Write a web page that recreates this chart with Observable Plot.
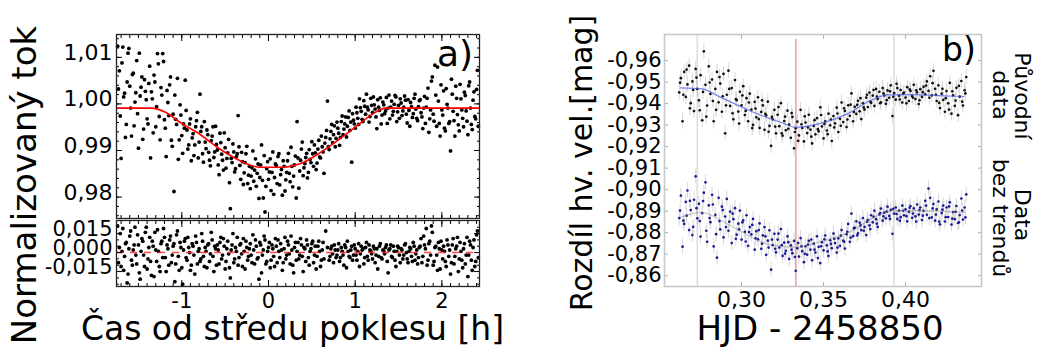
<!DOCTYPE html>
<html><head><meta charset="utf-8">
<script src="https://cdn.jsdelivr.net/npm/d3@7"></script>
<script src="https://cdn.jsdelivr.net/npm/@observablehq/plot@0.6"></script>
<style>
html,body{margin:0;padding:0;background:#fff;}
#root{position:relative;width:1040px;height:347px;overflow:hidden;font-family:"DejaVu Sans",sans-serif;color:#000;}
.t{position:absolute;white-space:nowrap;line-height:1;font-family:"DejaVu Sans",sans-serif;}
svg{position:absolute;}
</style></head><body><div id="root"></div>
<script>
// ---------- Panel a) : normalized flux vs time from mid-transit [h] ----------
const fluxA = [
[-1.74,1.0124],[-1.72,1.0071],[-1.70,0.9883],[-1.68,1.0122],[-1.66,1.0023],[-1.64,0.9956],[-1.62,1.0109],[-1.60,1.0038],[-1.58,0.9931],[-1.56,1.0066],[-1.54,1.0004],[-1.52,1.0093],[-1.50,0.9905],[-1.48,1.0017],[-1.46,1.0058],[-1.44,0.9946],[-1.42,1.0027],[-1.40,0.9968],[-1.38,1.0044],[-1.36,0.9884],[-1.34,1.0011],[-1.32,1.0062],[-1.30,0.9951],[-1.28,1.0108],[-1.26,0.9973],[-1.24,1.0035],[-1.22,1.0108],[-1.20,0.9966],[-1.18,0.9887],[-1.16,1.0003],[-1.14,1.0041],[-1.12,0.9922],[-1.10,0.9978],[-1.08,1.0019],[-1.06,0.9956],[-1.04,0.9881],[-1.02,0.9998],[-1.00,0.9932],[-0.98,0.9957],[-0.96,1.0051],[-0.94,0.9944],[-0.92,0.9912],[-0.90,0.9968],[-0.88,0.9927],[-0.86,0.9889],[-0.84,0.9951],[-0.82,0.9982],[-0.80,0.9918],[-0.78,0.9941],[-0.76,0.9893],[-0.74,0.9962],[-0.72,0.9904],[-0.70,0.9934],[-0.68,0.9879],[-0.66,0.9921],[-0.64,0.9951],[-0.62,0.9897],[-0.60,0.9913],[-0.58,0.9869],[-0.56,0.9937],[-0.54,0.9892],[-0.52,0.9858],[-0.50,0.9906],[-0.48,0.9883],[-0.46,0.9924],[-0.44,0.9775],[-0.42,0.9874],[-0.40,0.9897],[-0.38,0.9861],[-0.36,0.9893],[-0.34,0.9908],[-0.32,0.9838],[-0.30,0.9876],[-0.28,0.9852],[-0.26,0.9893],[-0.24,0.9829],[-0.22,0.9866],[-0.20,0.9845],[-0.18,0.9899],[-0.16,0.9858],[-0.14,0.9823],[-0.12,0.9871],[-0.10,0.9842],[-0.08,0.9912],[-0.06,0.9798],[-0.04,0.9768],[-0.02,0.9861],[0.00,0.9838],[0.02,0.9882],[0.04,0.9853],[0.06,0.9806],[0.08,0.9871],[0.10,0.9829],[0.12,0.9893],[0.14,0.9848],[0.16,0.9804],[0.18,0.9866],[0.20,0.9837],[0.22,0.9878],[0.24,0.9851],[0.26,0.9907],[0.28,0.9822],[0.30,0.9869],[0.32,0.9798],[0.34,0.9884],[0.36,0.9856],[0.38,0.9903],[0.40,0.9846],[0.42,0.9872],[0.44,0.9894],[0.46,0.9853],[0.48,0.9881],[0.50,0.9919],[0.52,0.9866],[0.54,0.9895],[0.56,0.9873],[0.58,0.9922],[0.60,0.9884],[0.62,0.9908],[0.64,0.9851],[0.66,0.9928],[0.68,1.0006],[0.70,0.9902],[0.72,0.9941],[0.74,0.9917],[0.76,0.9953],[0.78,0.9926],[0.80,0.9948],[0.82,0.9911],[0.84,0.9962],[0.86,0.9934],[0.88,0.9957],[0.90,0.9929],[0.92,0.9971],[0.94,0.9943],[0.96,0.9875],[0.98,0.9965],[1.00,0.9948],[1.02,0.9981],[1.04,0.9956],[1.06,0.9992],[1.08,0.9967],[1.10,1.0007],[1.12,0.9978],[1.14,0.9993],[1.16,0.9961],[1.18,1.0012],[1.20,0.9982],[1.22,0.9998],[1.24,0.9972],[1.26,1.0009],[1.28,0.9986],[1.30,0.9957],[1.32,1.0004],[1.34,0.9979],[1.36,1.0014],[1.38,0.9991],[1.40,0.9968],[1.42,1.0006],[1.44,0.9984],[1.46,1.0018],[1.48,0.9962],[1.50,0.9997],[1.52,1.0011],[1.54,0.9975],[1.56,0.9993],[1.58,1.0008],[1.60,0.9959],[1.62,0.9986],[1.64,1.0003],[1.66,0.9971],[1.68,1.0012],[1.70,0.9989],[1.72,0.9964],[1.74,1.0007],[1.76,0.9981],[1.78,0.9947],[1.80,1.0016],[1.82,0.9993],[1.84,1.0034],[1.86,0.9968],[1.88,1.0049],[1.90,0.9978],[1.92,1.0083],[1.94,0.9952],[1.96,1.0006],[1.98,0.9931],[2.00,0.9987],[2.02,1.0028],[2.04,0.9942],[2.06,0.9999],[2.08,0.9958],[2.10,0.9899],[2.12,1.0021],[2.14,0.9964],[2.16,1.0038],[2.18,0.9977],[2.20,0.9942],[2.22,1.0011],[2.24,0.9969],[2.26,1.0025],[2.28,0.9985],[2.30,0.9934],[2.32,1.0047],[2.34,0.9956],[2.36,1.0008],[2.38,0.9973],[2.40,1.0031],[2.42,0.9952],
[-1.73,1.0032],[-1.71,0.9974],[-1.69,1.0088],[-1.67,1.0015],[-1.65,0.9928],[-1.63,1.0047],[-1.61,1.0119],[-1.59,0.9991],[-1.57,1.0063],[-1.55,0.9953],[-1.53,1.0024],[-1.51,0.9979],[-1.49,1.0109],[-1.47,1.0036],[-1.45,0.9924],[-1.43,1.0052],[-1.41,1.0009],[-1.39,0.9957],[-1.37,1.0081],[-1.35,1.0026],[-1.33,0.9938],[-1.31,1.0047],[-1.29,0.9994],[-1.27,1.0086],[-1.25,0.9923],[-1.23,1.0019],[-1.21,1.0091],[-1.19,0.9948],[-1.17,1.0029],[-1.15,0.9975],[-1.13,1.0058],[-1.11,0.9909],[-1.09,0.9812],[-1.07,0.9967],[-1.05,1.0055],[-1.03,0.9923],[-1.01,0.9976],[-0.99,0.9894],[-0.97,0.9948],[-0.95,0.9986],[-0.93,0.9903],[-0.91,0.9957],[-0.89,0.9878],[-0.87,0.9936],[-0.85,0.9912],[-0.83,0.9964],[-0.81,0.9884],[-0.79,1.0021],[-0.77,0.9951],[-0.75,0.9875],[-0.73,0.9918],[-0.71,0.9944],[-0.69,0.9896],[-0.67,0.9867],[-0.65,0.9931],[-0.63,0.9885],[-0.61,0.9952],[-0.59,0.9901],[-0.57,0.9848],[-0.55,0.9917],[-0.53,0.9879],[-0.51,0.9938],[-0.49,0.9862],[-0.47,0.9895],[-0.45,0.9831],[-0.43,0.9883],[-0.41,0.9914],[-0.39,0.9854],[-0.37,0.9887],[-0.35,0.9975],[-0.33,0.9868],[-0.31,0.9896],[-0.29,0.9827],[-0.27,0.9874],[-0.25,0.9909],[-0.23,0.9847],[-0.21,0.9818],[-0.19,0.9863],[-0.17,0.9834],[-0.15,0.9882],[-0.13,0.9851],[-0.11,0.9797],[-0.09,0.9869],[-0.07,0.9836],[-0.05,0.9889],[-0.03,0.9823],[-0.01,0.9876],[0.01,0.9854],[0.03,0.9814],[0.05,0.9897],[0.07,0.9842],[0.09,0.9868],[0.11,0.9887],[0.13,0.9826],[0.15,0.9859],[0.17,0.9878],[0.19,0.9813],[0.21,0.9853],[0.23,0.9894],[0.25,0.9833],[0.27,0.9866],[0.29,0.9845],[0.31,0.9888],[0.33,0.9962],[0.35,0.9819],[0.37,0.9879],[0.39,0.9918],[0.41,0.9863],[0.43,0.9885],[0.45,0.9841],[0.47,0.9902],[0.49,0.9874],[0.51,0.9893],[0.53,0.9912],[0.55,0.9859],[0.57,0.9903],[0.59,0.9886],[0.61,0.9931],[0.63,0.9897],[0.65,0.9916],[0.67,0.9943],[0.69,0.9908],[0.71,0.9925],[0.73,0.9956],[0.75,0.9934],[0.77,0.9908],[0.79,0.9961],[0.81,0.9937],[0.83,0.9928],[0.85,0.9974],[0.87,0.9946],[0.89,0.9972],[0.91,0.9952],[0.93,0.9985],[0.95,0.9961],[0.97,0.9979],[0.99,0.9957],[1.01,0.9993],[1.03,0.9969],[1.05,1.0011],[1.07,0.9984],[1.09,0.9962],[1.11,0.9995],[1.13,1.0021],[1.15,0.9987],[1.17,0.9973],[1.19,0.9997],[1.21,1.0015],[1.23,0.9989],[1.25,0.9947],[1.27,0.9993],[1.29,1.0013],[1.31,0.9976],[1.33,0.9998],[1.35,0.9985],[1.37,0.9958],[1.39,1.0019],[1.41,0.9993],[1.43,0.9976],[1.45,0.9999],[1.47,1.0015],[1.49,0.9983],[1.51,0.9969],[1.53,1.0002],[1.55,0.9985],[1.57,1.0017],[1.59,0.9978],[1.61,1.0009],[1.63,0.9952],[1.65,0.9994],[1.67,0.9979],[1.69,1.0021],[1.71,0.9969],[1.73,0.9994],[1.75,1.0009],[1.77,0.9972],[1.79,0.9991],[1.81,0.9958],[1.83,1.0012],[1.85,0.9939],[1.87,0.9987],[1.89,1.0058],[1.91,0.9963],[1.93,1.0019],[1.95,1.0079],[1.97,0.9958],[1.99,1.0041],[2.01,0.9976],[2.03,0.9948],[2.05,1.0033],[2.07,0.9991],[2.09,0.9962],[2.11,1.0053],[2.13,0.9984],[2.15,0.9931],[2.17,1.0012],[2.19,0.9955],[2.21,1.0042],[2.23,0.9987],[2.25,0.9951],[2.27,1.0018],[2.29,0.9963],[2.31,1.0039],[2.33,0.9991],[2.35,0.9945],[2.37,1.0026],[2.39,0.9968],[2.41,1.0072]
];
const modelA = [[-1.753,0.9991],[-1.34,0.9991],[-1.2,0.9983],[-1.0,0.9958],[-0.8,0.9936],[-0.6,0.9908],[-0.4,0.9885],[-0.2,0.9868],[-0.1,0.9864],[0.15,0.9864],[0.3,0.9868],[0.4,0.9874],[0.6,0.9896],[0.8,0.9922],[1.0,0.9950],[1.2,0.9978],[1.35,0.9991],[2.434,0.9991]];
const residA = [
[-1.74,0.021],[-1.72,0.004],[-1.70,-0.011],[-1.68,0.019],[-1.66,-0.003],[-1.64,0.008],[-1.62,-0.017],[-1.60,0.013],[-1.58,-0.006],[-1.56,0.002],[-1.54,0.020],[-1.52,-0.009],[-1.50,0.006],[-1.48,-0.021],[-1.46,0.011],[-1.44,-0.002],[-1.42,0.016],[-1.40,-0.013],[-1.38,0.004],[-1.36,-0.007],[-1.34,0.009],[-1.32,-0.019],[-1.30,0.002],[-1.28,0.018],[-1.26,-0.011],[-1.24,0.007],[-1.22,-0.004],[-1.20,0.012],[-1.18,-0.015],[-1.16,0.003],[-1.14,0.010],[-1.12,-0.008],[-1.10,0.005],[-1.08,-0.023],[-1.06,0.014],[-1.04,-0.003],[-1.02,0.008],[-1.00,-0.012],[-0.98,0.002],[-0.96,0.011],[-0.94,-0.006],[-0.92,0.004],[-0.90,-0.014],[-0.88,0.007],[-0.86,-0.002],[-0.84,0.013],[-0.82,-0.009],[-0.80,0.003],[-0.78,-0.005],[-0.76,0.009],[-0.74,-0.011],[-0.72,0.001],[-0.70,0.006],[-0.68,-0.007],[-0.66,0.016],[-0.64,-0.003],[-0.62,0.005],[-0.60,-0.010],[-0.58,0.002],[-0.56,0.008],[-0.54,-0.005],[-0.52,0.011],[-0.50,-0.013],[-0.48,0.003],[-0.46,-0.001],[-0.44,-0.020],[-0.42,0.006],[-0.40,-0.008],[-0.38,0.004],[-0.36,0.012],[-0.34,-0.004],[-0.32,0.007],[-0.30,-0.011],[-0.28,0.001],[-0.26,0.009],[-0.24,-0.006],[-0.22,0.003],[-0.20,-0.002],[-0.18,0.014],[-0.16,-0.009],[-0.14,0.005],[-0.12,-0.004],[-0.10,0.008],[-0.08,-0.016],[-0.06,0.002],[-0.04,0.010],[-0.02,-0.007],[0.00,0.004],[0.02,-0.012],[0.04,0.006],[0.06,-0.003],[0.08,0.011],[0.10,-0.008],[0.12,0.001],[0.14,0.007],[0.16,-0.014],[0.18,0.003],[0.20,-0.005],[0.22,0.009],[0.24,-0.001],[0.26,0.013],[0.28,-0.010],[0.30,0.004],[0.32,-0.006],[0.34,0.008],[0.36,-0.002],[0.38,0.006],[0.40,-0.015],[0.42,0.003],[0.44,0.010],[0.46,-0.004],[0.48,0.001],[0.50,0.007],[0.52,-0.008],[0.54,0.005],[0.56,-0.003],[0.58,0.009],[0.60,-0.011],[0.62,0.002],[0.64,-0.005],[0.66,0.017],[0.68,0.004],[0.70,-0.006],[0.72,0.003],[0.74,-0.001],[0.76,0.006],[0.78,-0.004],[0.80,0.002],[0.82,-0.007],[0.84,0.004],[0.86,-0.002],[0.88,0.006],[0.90,-0.012],[0.92,0.001],[0.94,-0.004],[0.96,0.005],[0.98,-0.002],[1.00,0.003],[1.02,-0.006],[1.04,0.007],[1.06,-0.001],[1.08,0.002],[1.10,-0.009],[1.12,0.004],[1.14,-0.003],[1.16,0.006],[1.18,0.001],[1.20,-0.005],[1.22,0.003],[1.24,-0.002],[1.26,-0.013],[1.28,0.005],[1.30,-0.004],[1.32,0.002],[1.34,-0.001],[1.36,0.006],[1.38,-0.016],[1.40,0.003],[1.42,-0.003],[1.44,0.005],[1.46,-0.006],[1.48,0.001],[1.50,0.004],[1.52,-0.008],[1.54,0.002],[1.56,-0.002],[1.58,0.007],[1.60,-0.005],[1.62,0.001],[1.64,0.003],[1.66,-0.007],[1.68,0.005],[1.70,-0.001],[1.72,-0.009],[1.74,0.004],[1.76,0.011],[1.78,-0.003],[1.80,0.006],[1.82,0.019],[1.84,-0.006],[1.86,0.009],[1.88,0.021],[1.90,-0.010],[1.92,0.004],[1.94,-0.002],[1.96,0.008],[1.98,-0.013],[2.00,0.002],[2.02,0.005],[2.04,-0.007],[2.06,0.010],[2.08,-0.003],[2.10,-0.017],[2.12,0.006],[2.14,-0.009],[2.16,0.003],[2.18,0.012],[2.20,-0.005],[2.22,0.001],[2.24,-0.012],[2.26,0.007],[2.28,-0.002],[2.30,-0.019],[2.32,0.009],[2.34,-0.006],[2.36,0.004],[2.38,-0.011],[2.40,0.014],[2.42,-0.004],
[-1.73,-0.008],[-1.71,0.015],[-1.69,0.001],[-1.67,-0.014],[-1.65,0.007],[-1.63,-0.024],[-1.61,0.003],[-1.59,0.017],[-1.57,-0.010],[-1.55,0.006],[-1.53,-0.002],[-1.51,0.014],[-1.49,-0.016],[-1.47,0.001],[-1.45,0.009],[-1.43,-0.011],[-1.41,0.020],[-1.39,-0.005],[-1.37,0.012],[-1.35,-0.018],[-1.33,0.005],[-1.31,0.016],[-1.29,-0.007],[-1.27,0.001],[-1.25,-0.015],[-1.23,0.009],[-1.21,0.019],[-1.19,-0.004],[-1.17,0.006],[-1.15,-0.010],[-1.13,0.013],[-1.11,-0.002],[-1.09,0.007],[-1.07,-0.009],[-1.05,0.017],[-1.03,-0.014],[-1.01,0.004],[-0.99,-0.025],[-0.97,0.009],[-0.95,-0.004],[-0.93,0.012],[-0.91,0.000],[-0.89,-0.010],[-0.87,0.005],[-0.85,-0.017],[-0.83,0.008],[-0.81,0.001],[-0.79,-0.007],[-0.77,0.015],[-0.75,-0.003],[-0.73,0.004],[-0.71,-0.012],[-0.69,0.007],[-0.67,-0.001],[-0.65,0.010],[-0.63,-0.015],[-0.61,0.003],[-0.59,0.006],[-0.57,-0.009],[-0.55,0.012],[-0.53,-0.002],[-0.51,0.005],[-0.49,-0.007],[-0.47,0.009],[-0.45,-0.012],[-0.43,0.002],[-0.41,0.015],[-0.39,-0.005],[-0.37,0.001],[-0.35,-0.010],[-0.33,0.006],[-0.31,-0.001],[-0.29,0.011],[-0.27,-0.013],[-0.25,0.004],[-0.23,-0.003],[-0.21,0.007],[-0.19,-0.008],[-0.17,0.002],[-0.15,0.010],[-0.13,-0.005],[-0.11,-0.021],[-0.09,0.006],[-0.07,-0.002],[-0.05,0.013],[-0.03,-0.009],[-0.01,0.001],[0.01,0.008],[0.03,-0.006],[0.05,0.003],[0.07,-0.011],[0.09,0.005],[0.11,0.010],[0.13,-0.004],[0.15,0.002],[0.17,-0.008],[0.19,0.012],[0.21,-0.002],[0.23,0.006],[0.25,-0.009],[0.27,0.002],[0.29,-0.016],[0.31,0.008],[0.33,0.001],[0.35,-0.005],[0.37,0.011],[0.39,-0.003],[0.41,0.004],[0.43,-0.007],[0.45,0.006],[0.47,-0.010],[0.49,0.003],[0.51,0.009],[0.53,-0.002],[0.55,-0.013],[0.57,0.005],[0.59,0.001],[0.61,-0.006],[0.63,0.008],[0.71,-0.003],[0.73,0.005],[0.75,-0.008],[0.77,0.002],[0.79,-0.002],[0.81,0.007],[0.83,-0.004],[0.85,0.001],[0.87,-0.010],[0.89,0.004],[0.91,0.009],[0.93,-0.003],[0.95,0.002],[0.97,-0.006],[0.99,0.006],[1.01,-0.002],[1.03,0.001],[1.05,-0.011],[1.07,0.005],[1.09,0.003],[1.11,-0.004],[1.13,0.008],[1.15,-0.006],[1.17,0.002],[1.19,-0.001],[1.21,0.005],[1.23,-0.008],[1.25,0.003],[1.27,-0.003],[1.29,0.007],[1.31,-0.005],[1.33,0.001],[1.35,0.004],[1.37,-0.007],[1.39,0.002],[1.41,0.006],[1.43,-0.004],[1.45,0.001],[1.47,-0.011],[1.49,0.005],[1.51,-0.002],[1.53,0.003],[1.55,-0.005],[1.57,0.006],[1.59,0.000],[1.61,-0.008],[1.63,0.004],[1.65,-0.003],[1.67,0.008],[1.69,-0.006],[1.71,0.002],[1.73,-0.004],[1.75,0.005],[1.77,-0.008],[1.79,0.013],[1.81,0.003],[1.83,-0.010],[1.85,0.007],[1.87,-0.002],[1.89,0.016],[1.91,-0.007],[1.93,0.005],[1.95,-0.014],[1.97,0.003],[1.99,0.009],[2.01,-0.005],[2.03,0.001],[2.05,-0.011],[2.07,0.006],[2.09,0.002],[2.11,-0.008],[2.13,0.011],[2.15,-0.003],[2.17,0.005],[2.19,-0.015],[2.21,0.008],[2.23,-0.006],[2.25,0.003],[2.27,-0.009],[2.29,0.012],[2.31,-0.002],[2.33,0.006],[2.35,-0.014],[2.37,0.010],[2.39,-0.007],[2.41,0.017]
];
const residZero = [0];
const aXTicks = [-1, 0, 1, 2];
const aXTickLabels = ["-1", "0", "1", "2"];
const aYTicks = [0.98, 0.99, 1.00, 1.01];
const aYTickLabels = ["0,98", "0,99", "1,00", "1,01"];
const rYTicks = [-0.015, 0, 0.015];
const rYTickLabels = ["-0,015", "0,000", "0,015"];

// ---------- Panel b) : magnitude difference vs HJD - 2458850 ----------
const magRaw = [
[0.262,-0.9452],[0.263,-0.9518],[0.264,-0.9318],[0.265,-0.9547],[0.266,-0.9431],[0.267,-0.9489],[0.268,-0.9576],[0.269,-0.9402],[0.270,-0.9503],[0.271,-0.9365],[0.272,-0.9561],[0.273,-0.9468],[0.274,-0.9415],[0.275,-0.9532],[0.276,-0.9322],[0.277,-0.9643],[0.278,-0.9487],[0.279,-0.9391],[0.280,-0.9573],[0.281,-0.9445],[0.282,-0.9512],[0.283,-0.9318],[0.284,-0.9468],[0.285,-0.9547],[0.286,-0.9406],[0.287,-0.9493],[0.288,-0.9362],[0.289,-0.9538],[0.290,-0.9262],[0.291,-0.9441],[0.292,-0.9553],[0.293,-0.9389],[0.294,-0.9472],[0.295,-0.9327],[0.296,-0.9509],[0.297,-0.9416],[0.298,-0.9363],[0.299,-0.9455],[0.300,-0.9392],[0.301,-0.9481],[0.302,-0.9347],[0.303,-0.9425],[0.304,-0.9318],[0.305,-0.9446],[0.306,-0.9372],[0.307,-0.9301],[0.308,-0.9408],[0.309,-0.9336],[0.310,-0.9429],[0.311,-0.9287],[0.312,-0.9361],[0.313,-0.9392],[0.314,-0.9278],[0.315,-0.9345],[0.316,-0.9409],[0.317,-0.9296],[0.318,-0.9203],[0.319,-0.9327],[0.320,-0.9371],[0.321,-0.9262],[0.322,-0.9348],[0.323,-0.9295],[0.324,-0.9402],[0.325,-0.9251],[0.326,-0.9319],[0.327,-0.9276],[0.328,-0.9367],[0.329,-0.9302],[0.330,-0.9241],[0.331,-0.9338],[0.332,-0.9192],[0.333,-0.9285],[0.334,-0.9316],[0.335,-0.9252],[0.336,-0.9371],[0.337,-0.9287],[0.338,-0.9224],[0.339,-0.9312],[0.340,-0.9263],[0.341,-0.9348],[0.342,-0.9279],[0.343,-0.9215],[0.344,-0.9296],[0.345,-0.9257],[0.346,-0.9332],[0.347,-0.9271],[0.348,-0.9383],[0.349,-0.9294],[0.350,-0.9238],[0.351,-0.9317],[0.352,-0.9275],[0.353,-0.9353],[0.354,-0.9299],[0.355,-0.9226],[0.356,-0.9342],[0.357,-0.9308],[0.358,-0.9381],[0.359,-0.9268],[0.360,-0.9329],[0.361,-0.9405],[0.362,-0.9314],[0.363,-0.9366],[0.364,-0.9291],[0.365,-0.9392],[0.366,-0.9343],[0.367,-0.9447],[0.368,-0.9318],[0.369,-0.9385],[0.370,-0.9352],[0.371,-0.9413],[0.372,-0.9364],[0.373,-0.9328],[0.374,-0.9401],[0.375,-0.9372],[0.376,-0.9428],[0.377,-0.9384],[0.378,-0.9451],[0.379,-0.9403],[0.380,-0.9437],[0.381,-0.9389],[0.382,-0.9468],[0.383,-0.9421],[0.384,-0.9455],[0.385,-0.9406],[0.386,-0.9472],[0.387,-0.9438],[0.388,-0.9399],[0.389,-0.9461],[0.390,-0.9427],[0.391,-0.9485],[0.392,-0.9342],[0.393,-0.9449],[0.394,-0.9418],[0.395,-0.9472],[0.396,-0.9436],[0.397,-0.9463],[0.398,-0.9405],[0.399,-0.9451],[0.400,-0.9428],[0.401,-0.9476],[0.402,-0.9412],[0.403,-0.9459],[0.404,-0.9435],[0.405,-0.9487],[0.406,-0.9421],[0.407,-0.9452],[0.408,-0.9398],[0.409,-0.9467],[0.410,-0.9431],[0.411,-0.9478],[0.412,-0.9443],[0.413,-0.9503],[0.414,-0.9459],[0.415,-0.9527],[0.416,-0.9438],[0.417,-0.9552],[0.418,-0.9469],[0.419,-0.9412],[0.420,-0.9485],[0.421,-0.9379],[0.422,-0.9446],[0.423,-0.9417],[0.424,-0.9362],[0.425,-0.9458],[0.426,-0.9401],[0.427,-0.9496],[0.428,-0.9353],[0.429,-0.9438],[0.430,-0.9389],[0.431,-0.9473],[0.432,-0.9346],[0.433,-0.9432],[0.434,-0.9505],[0.435,-0.9391],[0.436,-0.9462],[0.437,-0.9523],
[0.2625,-0.9497],[0.2645,-0.9441],[0.2665,-0.9558],[0.2685,-0.9378],[0.2705,-0.9463],[0.2725,-0.9521],[0.2745,-0.9369],[0.2765,-0.9454],[0.2785,-0.9339],[0.2805,-0.9498],[0.2825,-0.9412],[0.2845,-0.9371],[0.2865,-0.9523],[0.2885,-0.9434],[0.2905,-0.9392],[0.2925,-0.9468],[0.2945,-0.9355],[0.2965,-0.9421],[0.2985,-0.9307],[0.3005,-0.9438],[0.3025,-0.9366],[0.3045,-0.9405],[0.3065,-0.9286],[0.3085,-0.9377],[0.3105,-0.9328],[0.3125,-0.9415],[0.3145,-0.9352],[0.3165,-0.9269],[0.3185,-0.9338],[0.3205,-0.9293],[0.3225,-0.9384],[0.3245,-0.9262],[0.3265,-0.9339],[0.3285,-0.9283],[0.3305,-0.9356],[0.3325,-0.9268],[0.3345,-0.9227],[0.3365,-0.9304],[0.3385,-0.9341],[0.3405,-0.9289],[0.3425,-0.9246],[0.3445,-0.9323],[0.3465,-0.9281],[0.3485,-0.9347],[0.3505,-0.9305],[0.3525,-0.9258],[0.3545,-0.9326],[0.3565,-0.9289],[0.3585,-0.9354],[0.3605,-0.9297],[0.3625,-0.9378],[0.3645,-0.9326],[0.3665,-0.9395],[0.3685,-0.9361],[0.3705,-0.9394],[0.3725,-0.9425],[0.3745,-0.9382],[0.3765,-0.9441],[0.3785,-0.9409],[0.3805,-0.9463],[0.3825,-0.9432],[0.3845,-0.9402],[0.3865,-0.9448],[0.3885,-0.9416],[0.3905,-0.9457],[0.3925,-0.9432],[0.3945,-0.9492],[0.3965,-0.9419],[0.3985,-0.9446],[0.4005,-0.9401],[0.4025,-0.9466],[0.4045,-0.9428],[0.4065,-0.9462],[0.4085,-0.9415],[0.4105,-0.9453],[0.4125,-0.9484],[0.4145,-0.9427],[0.4165,-0.9495],[0.4185,-0.9441],[0.4205,-0.9403],[0.4225,-0.9469],[0.4245,-0.9425],[0.4265,-0.9372],[0.4285,-0.9457],[0.4305,-0.9414],[0.4325,-0.9482],[0.4345,-0.9409],[0.4365,-0.9447]
];
const magDetr = [
[0.262,-0.8868],[0.263,-0.8972],[0.264,-0.8735],[0.265,-0.8841],[0.266,-0.8943],[0.267,-0.8996],[0.268,-0.8812],[0.269,-0.8905],[0.270,-0.8789],[0.271,-0.8953],[0.272,-0.9062],[0.273,-0.8867],[0.274,-0.8934],[0.275,-0.8782],[0.276,-0.8891],[0.277,-0.8986],[0.278,-0.9034],[0.279,-0.8758],[0.280,-0.8927],[0.281,-0.8849],[0.282,-0.8976],[0.283,-0.8736],[0.284,-0.8883],[0.285,-0.8684],[0.286,-0.8962],[0.287,-0.8815],[0.288,-0.8921],[0.289,-0.8778],[0.290,-0.8875],[0.291,-0.8957],[0.292,-0.8809],[0.293,-0.8898],[0.294,-0.8752],[0.295,-0.8863],[0.296,-0.8914],[0.297,-0.8791],[0.298,-0.8842],[0.299,-0.8903],[0.300,-0.8768],[0.301,-0.8857],[0.302,-0.8804],[0.303,-0.8881],[0.304,-0.8739],[0.305,-0.8826],[0.306,-0.8792],[0.307,-0.8864],[0.308,-0.8721],[0.309,-0.8807],[0.310,-0.8769],[0.311,-0.8843],[0.312,-0.8725],[0.313,-0.8788],[0.314,-0.8826],[0.315,-0.8697],[0.316,-0.8763],[0.317,-0.8811],[0.318,-0.8628],[0.319,-0.8742],[0.320,-0.8795],[0.321,-0.8709],[0.322,-0.8768],[0.323,-0.8731],[0.324,-0.8817],[0.325,-0.8692],[0.326,-0.8754],[0.327,-0.8716],[0.328,-0.8783],[0.329,-0.8678],[0.330,-0.8741],[0.331,-0.8705],[0.332,-0.8762],[0.333,-0.8623],[0.334,-0.8728],[0.335,-0.8689],[0.336,-0.8775],[0.337,-0.8714],[0.338,-0.8663],[0.339,-0.8737],[0.340,-0.8698],[0.341,-0.8762],[0.342,-0.8721],[0.343,-0.8672],[0.344,-0.8749],[0.345,-0.8708],[0.346,-0.8783],[0.347,-0.8734],[0.348,-0.8659],[0.349,-0.8756],[0.350,-0.8718],[0.351,-0.8787],[0.352,-0.8741],[0.353,-0.8692],[0.354,-0.8765],[0.355,-0.8728],[0.356,-0.8796],[0.357,-0.8752],[0.358,-0.8708],[0.359,-0.8774],[0.360,-0.8739],[0.361,-0.8812],[0.362,-0.8763],[0.363,-0.8726],[0.364,-0.8793],[0.365,-0.8841],[0.366,-0.8758],[0.367,-0.8889],[0.368,-0.8784],[0.369,-0.8822],[0.370,-0.8853],[0.371,-0.8797],[0.372,-0.8846],[0.373,-0.8812],[0.374,-0.8868],[0.375,-0.8827],[0.376,-0.8789],[0.377,-0.8859],[0.378,-0.8834],[0.379,-0.8881],[0.380,-0.8848],[0.381,-0.8902],[0.382,-0.8863],[0.383,-0.8827],[0.384,-0.8885],[0.385,-0.8912],[0.386,-0.8856],[0.387,-0.8893],[0.388,-0.8867],[0.389,-0.8921],[0.390,-0.8878],[0.391,-0.8906],[0.392,-0.8795],[0.393,-0.8889],[0.394,-0.8917],[0.395,-0.8864],[0.396,-0.8903],[0.397,-0.8872],[0.398,-0.8926],[0.399,-0.8881],[0.400,-0.8908],[0.401,-0.8853],[0.402,-0.8897],[0.403,-0.8924],[0.404,-0.8869],[0.405,-0.8913],[0.406,-0.8876],[0.407,-0.8931],[0.408,-0.8884],[0.409,-0.8917],[0.410,-0.8859],[0.411,-0.8902],[0.412,-0.8948],[0.413,-0.8883],[0.414,-0.9005],[0.415,-0.8962],[0.416,-0.8871],[0.417,-0.8933],[0.418,-0.8856],[0.419,-0.8908],[0.420,-0.8945],[0.421,-0.8839],[0.422,-0.8891],[0.423,-0.8926],[0.424,-0.8852],[0.425,-0.8917],[0.426,-0.8873],[0.427,-0.8941],[0.428,-0.8838],[0.429,-0.8896],[0.430,-0.8863],[0.431,-0.8924],[0.432,-0.8845],[0.433,-0.8882],[0.434,-0.8959],[0.435,-0.8861],[0.436,-0.8917],[0.437,-0.8978],
[0.2625,-0.8903],[0.2645,-0.8856],[0.2665,-0.8879],[0.2685,-0.8948],[0.2705,-0.8827],[0.2725,-0.8914],[0.2745,-0.8854],[0.2765,-0.8947],[0.2785,-0.8809],[0.2805,-0.8868],[0.2825,-0.8931],[0.2845,-0.8793],[0.2865,-0.8854],[0.2885,-0.8905],[0.2905,-0.8826],[0.2925,-0.8851],[0.2945,-0.8889],[0.2965,-0.8772],[0.2985,-0.8815],[0.3005,-0.8848],[0.3025,-0.8759],[0.3045,-0.8803],[0.3065,-0.8836],[0.3085,-0.8774],[0.3105,-0.8812],[0.3125,-0.8749],[0.3145,-0.8783],[0.3165,-0.8731],[0.3185,-0.8768],[0.3205,-0.8725],[0.3225,-0.8796],[0.3245,-0.8742],[0.3265,-0.8703],[0.3285,-0.8756],[0.3305,-0.8721],[0.3325,-0.8687],[0.3345,-0.8752],[0.3365,-0.8736],[0.3385,-0.8702],[0.3405,-0.8745],[0.3425,-0.8768],[0.3445,-0.8721],[0.3465,-0.8682],[0.3485,-0.8737],[0.3505,-0.8769],[0.3525,-0.8713],[0.3545,-0.8748],[0.3565,-0.8772],[0.3585,-0.8731],[0.3605,-0.8786],[0.3625,-0.8758],[0.3645,-0.8804],[0.3665,-0.8777],[0.3685,-0.8821],[0.3705,-0.8788],[0.3725,-0.8834],[0.3745,-0.8809],[0.3765,-0.8851],[0.3785,-0.8817],[0.3805,-0.8874],[0.3825,-0.8842],[0.3845,-0.8891],[0.3865,-0.8876],[0.3885,-0.8898],[0.3905,-0.8864],[0.3925,-0.8911],[0.3945,-0.8887],[0.3965,-0.8856],[0.3985,-0.8902],[0.4005,-0.8877],[0.4025,-0.8916],[0.4045,-0.8889],[0.4065,-0.8852],[0.4085,-0.8905],[0.4105,-0.8879],[0.4125,-0.8926],[0.4145,-0.8868],[0.4165,-0.8913],[0.4185,-0.8884],[0.4205,-0.8851],[0.4225,-0.8907],[0.4245,-0.8872],[0.4265,-0.8922],[0.4285,-0.8865],[0.4305,-0.8897],[0.4325,-0.8848],[0.4345,-0.8903],[0.4365,-0.8871]
];
const magErr = 0.0035;
const modelRaw = [[0.2628,-0.9473],[0.2760,-0.9468],[0.2872,-0.9429],[0.3073,-0.9360],[0.3238,-0.9313],[0.3331,-0.9290],[0.3482,-0.9308],[0.3645,-0.9352],[0.3787,-0.9414],[0.3888,-0.9440],[0.4049,-0.9442],[0.4193,-0.9437],[0.4354,-0.9433]];
const modelDetr = [[0.2628,-0.8871],[0.2750,-0.8894],[0.2951,-0.8825],[0.3157,-0.8747],[0.3329,-0.8732],[0.3502,-0.8763],[0.3665,-0.8805],[0.3805,-0.8871],[0.3927,-0.8902],[0.4110,-0.8902],[0.4354,-0.8894]];
const markerLinesGray = [0.273, 0.3929];
const markerLineRed = [0.3331];
const bXTicks = [0.30, 0.35, 0.40];
const bXTickLabels = ["0,30", "0,35", "0,40"];
const bYTicks = [-0.96, -0.95, -0.94, -0.93, -0.92, -0.91, -0.90, -0.89, -0.88, -0.87, -0.86];
const bYTickLabels = ["-0,96", "-0,95", "-0,94", "-0,93", "-0,92", "-0,91", "-0,90", "-0,89", "-0,88", "-0,87", "-0,86"];

// ---------- drawing ----------
const root = document.getElementById("root");
const FONT = "DejaVu Sans";
const baseStyle = {fontFamily: FONT, fontSize: "22px", color: "#000", background: "none", overflow: "visible"};
const fmt = (ticks, labels) => d => labels[ticks.indexOf(d)];
const blank = () => "";
function inTicks(dim, ticks, len, color, sides, sw = 1) {
  const out = [];
  for (const side of sides) {
    const o = {ticks, anchor: side, tickSize: len, tickFormat: blank, label: null, color, strokeWidth: sw};
    if (side === "left") o.dx = len;
    if (side === "right") o.dx = -len;
    if (side === "top") o.dy = len;
    if (side === "bottom") o.dy = -len;
    out.push(dim === "x" ? Plot.axisX(o) : Plot.axisY(o));
  }
  return out;
}
function put(svg, left, top) { svg.style.left = left + "px"; svg.style.top = top + "px"; root.appendChild(svg); }
function txt(s, x, y, size, rot = 0) {
  const d = document.createElement("div");
  d.className = "t"; d.textContent = s;
  d.style.fontSize = size + "px"; d.style.left = x + "px"; d.style.top = y + "px";
  d.style.transform = `translate(-50%,-50%) rotate(${rot}deg)`;
  root.appendChild(d);
}

const aXDomain = [-1.753, 2.434];
const aXMinor = d3.range(-1.7, 2.45, 0.1).map(v => Math.round(v * 10) / 10);
const aYMinor = d3.range(0.976, 1.015, 0.002).map(v => Math.round(v * 1000) / 1000);
const rYMinor = [-0.025, -0.02, -0.01, -0.005, 0.005, 0.01, 0.02];

const aTop = Plot.plot({
  width: 500, height: 220, marginLeft: 116, marginRight: 21, marginTop: 34, marginBottom: 2,
  style: baseStyle,
  x: {domain: aXDomain},
  y: {domain: [0.9754, 1.0149]},
  marks: [
    Plot.dot(fluxA, {r: 1.9, fill: "#000", stroke: "none"}),
    Plot.line(modelA, {stroke: "#ff0000", strokeWidth: 1.6, curve: "monotone-x"}),
    ...inTicks("y", aYTicks, 6, "#000", ["left", "right"]),
    ...inTicks("y", aYMinor, 3, "#000", ["left", "right"]),
    ...inTicks("x", aXTicks, 6, "#000", ["top", "bottom"]),
    ...inTicks("x", aXMinor, 3, "#000", ["top", "bottom"]),
    Plot.axisY({ticks: aYTicks, anchor: "left", tickSize: 0, tickPadding: 4, dy: -4.5, tickFormat: fmt(aYTicks, aYTickLabels), label: null, fontSize: 22}),
    Plot.frame({stroke: "#222", strokeWidth: 1.3})
  ]
});
put(aTop, 0, 0);

const aBot = Plot.plot({
  width: 500, height: 129, marginLeft: 116, marginRight: 21, marginTop: 2, marginBottom: 61,
  style: baseStyle,
  x: {domain: aXDomain},
  y: {domain: [-0.0268, 0.0253]},
  marks: [
    Plot.dot(residA, {r: 1.9, fill: "#000", stroke: "none"}),
    Plot.ruleY(residZero, {stroke: "#ff2a2a", strokeOpacity: 0.85, strokeWidth: 1.6, strokeDasharray: "7,7"}),
    ...inTicks("y", rYTicks, 6, "#000", ["left", "right"]),
    ...inTicks("y", rYMinor, 3, "#000", ["left", "right"]),
    ...inTicks("x", aXTicks, 6, "#000", ["top", "bottom"]),
    ...inTicks("x", aXMinor, 3, "#000", ["top", "bottom"]),
    Plot.axisY({ticks: rYTicks, anchor: "left", tickSize: 0, tickPadding: 4, dy: -4, tickFormat: fmt(rYTicks, rYTickLabels), label: null, fontSize: 21}),
    Plot.axisX({ticks: aXTicks, anchor: "bottom", tickSize: 0, tickPadding: 6.5, tickFormat: fmt(aXTicks, aXTickLabels), label: null, fontSize: 21}),
    Plot.frame({stroke: "#222", strokeWidth: 1.3})
  ]
});
put(aBot, 0, 218);

const errRule = data => Plot.ruleX(data, {x: d => d[0], y1: d => d[1] - magErr, y2: d => d[1] + magErr, stroke: "#b8b8b8", strokeOpacity: 0.55, strokeWidth: 1});
const bPlot = Plot.plot({
  width: 440, height: 347, marginLeft: 64, marginRight: 59, marginTop: 34, marginBottom: 61,
  style: baseStyle,
  x: {domain: [0.253, 0.4463]},
  y: {domain: [-0.9721, -0.855], reverse: true},
  marks: [
    Plot.ruleX(markerLinesGray, {stroke: "#dcdcdc", strokeWidth: 1.5}),
    Plot.ruleX(markerLineRed, {stroke: "#f5a3a3", strokeWidth: 1.6, insetTop: 5}),
    errRule(magRaw),
    errRule(magDetr),
    Plot.dot(magRaw, {r: 1.35, fill: "#111", stroke: "none"}),
    Plot.dot(magDetr, {r: 1.35, fill: "#1c1c9a", stroke: "none"}),
    Plot.line(modelRaw, {stroke: "#4a5ae8", strokeOpacity: 0.75, strokeWidth: 1.2, curve: "monotone-x"}),
    Plot.line(modelDetr, {stroke: "#777", strokeOpacity: 0.4, strokeWidth: 1.3, curve: "monotone-x"}),
    ...inTicks("y", bYTicks, 4, "#aaa", ["left", "right"]),
    ...inTicks("x", bXTicks, 4, "#aaa", ["bottom", "top"]),
    Plot.axisY({ticks: bYTicks, anchor: "left", tickSize: 0, tickPadding: 3, tickFormat: fmt(bYTicks, bYTickLabels), label: null, fontSize: 21}),
    Plot.axisX({ticks: bXTicks, anchor: "bottom", tickSize: 0, tickPadding: 5, tickFormat: fmt(bXTicks, bXTickLabels), label: null, fontSize: 22}),
    Plot.frame({stroke: "#c8c8c8", strokeWidth: 1.6})
  ]
});
put(bPlot, 600, 0);

// titles and panel tags
txt("Normalizovaný tok", 24, 185, 34, -90);
txt("Čas od středu poklesu [h]", 292.5, 328.3, 33);
txt("Rozdíl hv. vel.[mag]", 581.5, 163, 30, -90);
txt("HJD - 2458850", 820, 328.3, 34);
txt("Původní", 1021.6, 96, 22, 90);
txt("data", 999.6, 95, 22, 90);
txt("Data", 1021.6, 215, 22, 90);
txt("bez trendů", 999.6, 217.5, 22, 90);
txt("a)", 455, 53.5, 36);
txt("b)", 959, 48.6, 33);
</script></body></html>
